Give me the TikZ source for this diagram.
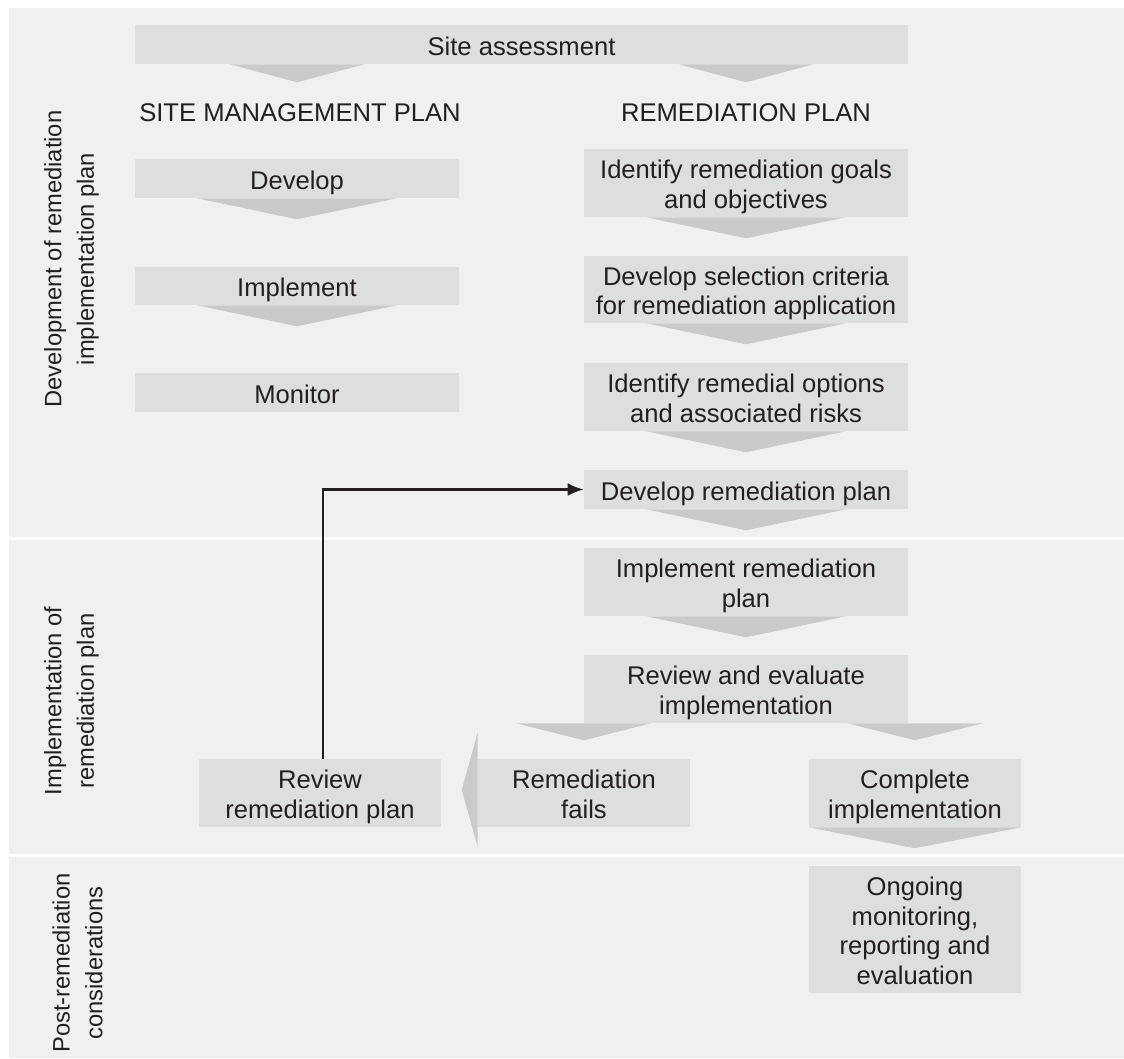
\documentclass[tikz,border=0pt]{standalone}
\usepackage{fontspec}
\setmainfont{Liberation Sans}
\usetikzlibrary{calc,arrows.meta}
\definecolor{panel}{RGB}{240,240,240}
\definecolor{boxc}{RGB}{221,222,223}
\definecolor{tric}{RGB}{201,202,204}
\definecolor{inkc}{RGB}{35,31,32}
\newcommand\topstrut{\rule[-0.22em]{0pt}{1.26em}}
\pgfdeclarelayer{bg}
\pgfdeclarelayer{tri}
\pgfsetlayers{bg,tri,main}
\begin{document}
\begin{tikzpicture}[x=0.75pt,y=-0.75pt,
  box/.style args={#1x#2}{fill=boxc, inner sep=0pt, align=center, text=inkc,
    minimum width=#1*0.75pt, minimum height=#2*0.75pt,
    font=\fontsize{19.2}{22.2}\selectfont,
    execute at end node={\rule[-0.22em]{0pt}{0.22em}}},
  head/.style={inner sep=0pt, text=inkc, font=\fontsize{19.2}{22.2}\selectfont},
  side/.style={inner sep=0pt, rotate=90, align=center, text=inkc,
    font=\fontsize{17.8}{24.5}\selectfont},
  trifill/.style={fill=tric},
  link/.style={draw=inkc, line width=1.6pt, -{Latex[length=12pt,width=9.5pt]}}
]
\useasboundingbox (0,0) rectangle (1124,1058);
\begin{pgfonlayer}{bg}
  \fill[white] (0,0) rectangle (1124,1058);
  \fill[panel] (9,8) rectangle (1124,1058);
  \fill[white] (9,536.5) rectangle (1124,539.5);
  \fill[white] (9,853.5) rectangle (1124,856.5);
\end{pgfonlayer}

% side labels
\node[side] (lab1) at (71.5,259) {Development of remediation\\implementation plan};
\node[side] (lab2) at (71.5,701) {Implementation of\\remediation plan};
\node[side] (lab3) at (77.5,963) {Post-remediation\\considerations};

% top
\node[box=773x39] (site) at (521.5,44.5) {\topstrut Site assessment};
\node[head] (smp) at (300,113) {SITE MANAGEMENT PLAN};
\node[head] (rp) at (746,113) {REMEDIATION PLAN};

% left column
\node[box=324x39] (dev) at (297,178.5) {\topstrut Develop};
\node[box=324x38] (imp) at (297,286) {\topstrut Implement};
\node[box=324x39] (mon) at (297,392.5) {\topstrut Monitor};

% right column
\node[box=324x68] (goals) at (746,183) {\topstrut Identify remediation goals\\and objectives};
\node[box=324x67] (crit) at (746,289.5) {\topstrut Develop selection criteria\\for remediation application};
\node[box=324x68] (opts) at (746,397) {\topstrut Identify remedial options\\and associated risks};
\node[box=324x39] (devplan) at (746,489.5) {\topstrut Develop remediation plan};
\node[box=324x68] (implplan) at (746,582) {\topstrut Implement remediation\\plan};
\node[box=324x68] (review) at (746,689) {\topstrut Review and evaluate\\implementation};
\node[box=212x68] (fails) at (584,793) {\topstrut Remediation\\fails};
\node[box=242x68] (revplan) at (320,793) {\topstrut Review\\remediation plan};
\node[box=212x68] (complete) at (915,793) {\topstrut Complete\\implementation};
\node[box=212x127] (ongoing) at (915,929.5) {\topstrut Ongoing\\monitoring,\\reporting and\\evaluation};

% chevrons
\begin{pgfonlayer}{tri}
  \fill[trifill] ($(site.south -| dev.center)+(-67.5,0)$) -- ($(site.south -| dev.center)+(67.5,0)$) -- ($(site.south -| dev.center)+(0,18)$) -- cycle;
  \fill[trifill] ($(site.south -| goals.center)+(-67.5,0)$) -- ($(site.south -| goals.center)+(67.5,0)$) -- ($(site.south -| goals.center)+(0,18)$) -- cycle;
  \foreach \n in {dev,imp,goals,crit,opts,devplan,implplan}{
    \fill[trifill] ($(\n.south)+(-100,0)$) -- ($(\n.south)+(100,0)$) -- ($(\n.south)+(0,21)$) -- cycle;
  }
  \fill[trifill] ($(review.south -| fails.center)+(-68,0)$) -- ($(review.south -| fails.center)+(67,0)$) -- ($(review.south -| fails.center)+(0,17)$) -- cycle;
  \fill[trifill] ($(review.south -| complete.center)+(-68,0)$) -- ($(review.south -| complete.center)+(68,0)$) -- ($(review.south -| complete.center)+(0,17)$) -- cycle;
  \fill[trifill] (complete.south west) -- (complete.south east) -- ($(complete.south)+(0,21)$) -- cycle;
  \fill[trifill] ($(fails.west)+(0,-61)$) -- ($(fails.west)+(0,54)$) -- ($(fails.west)+(-16,-3)$) -- cycle;
\end{pgfonlayer}

% feedback connector
\draw[link] ([xshift=2.25pt]revplan.north) |- (devplan.west);
\end{tikzpicture}
\end{document}
